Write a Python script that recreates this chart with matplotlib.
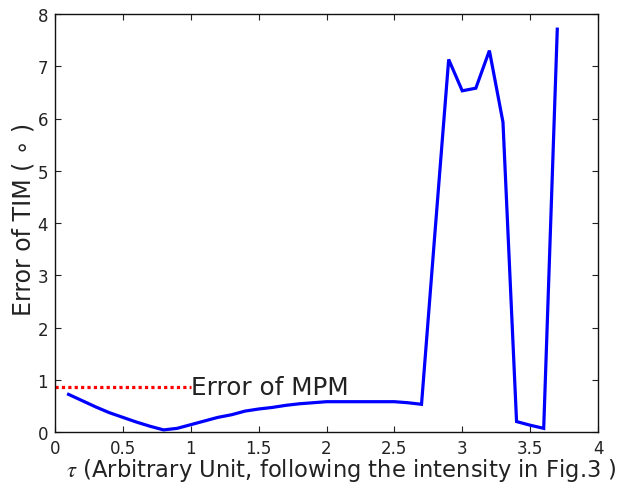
import matplotlib
matplotlib.use("Agg")
import matplotlib.pyplot as plt

plt.rcParams['font.family'] = ['DejaVu Sans']
plt.rcParams['mathtext.fontset'] = 'stix'

tau = [0.1, 0.2, 0.3, 0.4, 0.5, 0.6, 0.7, 0.8, 0.9, 1.0,
       1.1, 1.2, 1.3, 1.4, 1.5, 1.6, 1.7, 1.8, 1.9, 2.0,
       2.1, 2.2, 2.3, 2.4, 2.5, 2.6, 2.7, 2.8, 2.9, 3.0,
       3.1, 3.2, 3.3, 3.4, 3.5, 3.6, 3.7]
err_tim = [0.72, 0.60, 0.48, 0.37, 0.28, 0.19, 0.11, 0.04, 0.07, 0.14,
           0.21, 0.28, 0.33, 0.40, 0.44, 0.47, 0.51, 0.54, 0.56, 0.58,
           0.58, 0.58, 0.58, 0.58, 0.58, 0.56, 0.53, 3.85, 7.13, 6.53,
           6.58, 7.30, 5.93, 0.20, 0.13, 0.07, 7.71]
mpm_x = [0.0, 1.0]
mpm_err = 0.87

fig = plt.figure(figsize=(6.18, 4.85), dpi=100)
ax = fig.add_axes([55/618, 1 - 433/485, 543/618, 418/485])

ax.plot(tau, err_tim, color='#0000ff', lw=2.3, solid_joinstyle='miter')
ax.plot(mpm_x, [mpm_err, mpm_err], color='#ff0000', lw=2.3, ls=(0, (1, 1)))
ax.text(mpm_x[1], mpm_err, 'Error of MPM', fontsize=17.8, va='center', ha='left',
        color='#222222')

ax.set_xlim(0, 4)
ax.set_ylim(0, 8)
ax.set_xticks([0, 0.5, 1, 1.5, 2, 2.5, 3, 3.5, 4])
ax.set_xticklabels(['0', '0.5', '1', '1.5', '2', '2.5', '3', '3.5', '4'])
ax.set_yticks(range(0, 9))
ax.tick_params(direction='in', top=True, right=True, labelsize=12, length=4,
               width=0.8, colors='#222222', pad=5)
for s in ax.spines.values():
    s.set_linewidth(1.0)
    s.set_color('#111111')

ax.set_ylabel('Error of TIM ( \u2218 )', fontsize=17, color='#222222')
ax.yaxis.set_label_coords(-0.036, 0.51)
ax.set_xlabel(r'$\tau$ (Arbitrary Unit, following the intensity in Fig.3 )',
              fontsize=16.3, color='#222222')
ax.xaxis.set_label_coords(0.528, -0.057)

fig.savefig('out.png', dpi=100)
